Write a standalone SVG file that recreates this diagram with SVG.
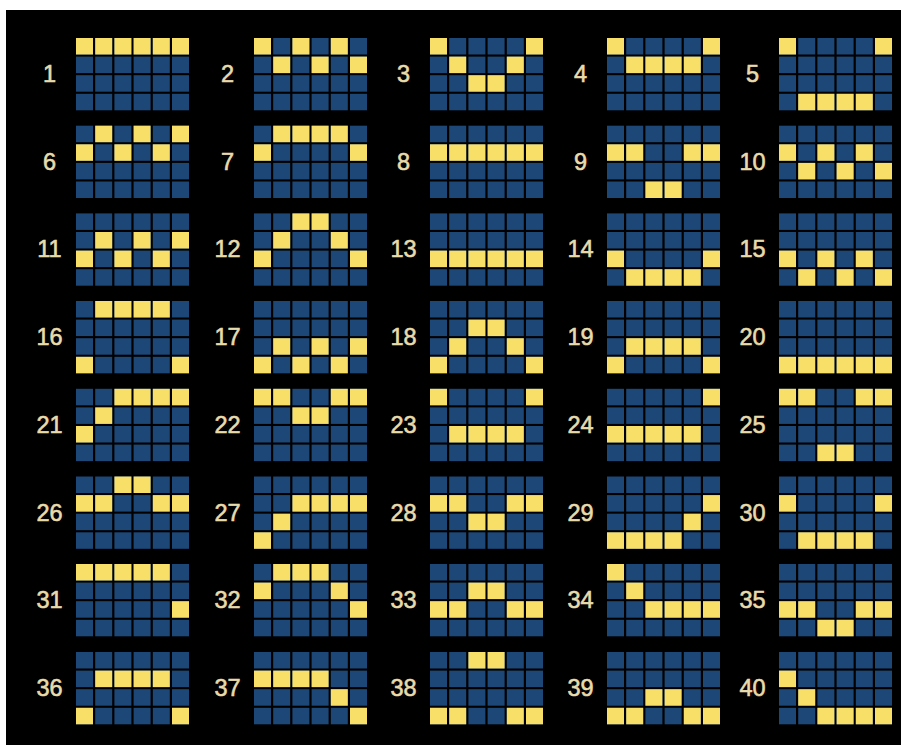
<svg xmlns="http://www.w3.org/2000/svg" xmlns:xlink="http://www.w3.org/1999/xlink" width="901" height="745" viewBox="0 0 901 745">
<style>
.bg{fill:#000}
.b{fill:#1d4777}
.yl{fill:#f8df68}
.lbl{font-family:"Liberation Sans",Arial,sans-serif;font-size:23.5px;fill:#e8dbab;stroke:#e8dbab;stroke-width:0.6;text-anchor:middle}
</style>
<defs>
<rect id="c" width="17" height="16.5" class="b"/>
<rect id="y" width="17" height="16.5" class="yl"/>
<g id="grid">
<use href="#c" x="0" y="0"/><use href="#c" x="19.2" y="0"/><use href="#c" x="38.4" y="0"/><use href="#c" x="57.6" y="0"/><use href="#c" x="76.8" y="0"/><use href="#c" x="96" y="0"/>
<use href="#c" x="0" y="18.6"/><use href="#c" x="19.2" y="18.6"/><use href="#c" x="38.4" y="18.6"/><use href="#c" x="57.6" y="18.6"/><use href="#c" x="76.8" y="18.6"/><use href="#c" x="96" y="18.6"/>
<use href="#c" x="0" y="37.2"/><use href="#c" x="19.2" y="37.2"/><use href="#c" x="38.4" y="37.2"/><use href="#c" x="57.6" y="37.2"/><use href="#c" x="76.8" y="37.2"/><use href="#c" x="96" y="37.2"/>
<use href="#c" x="0" y="55.8"/><use href="#c" x="19.2" y="55.8"/><use href="#c" x="38.4" y="55.8"/><use href="#c" x="57.6" y="55.8"/><use href="#c" x="76.8" y="55.8"/><use href="#c" x="96" y="55.8"/>
</g>
</defs>
<rect x="0" y="0" width="901" height="745" fill="#fff"/>
<rect x="6" y="10" width="895" height="735" class="bg"/>
<g id="connectors"></g>

<g id="line-1" transform="translate(76,38)"><use href="#grid"/><use href="#y" x="0" y="0"/><use href="#y" x="19.2" y="0"/><use href="#y" x="38.4" y="0"/><use href="#y" x="57.6" y="0"/><use href="#y" x="76.8" y="0"/><use href="#y" x="96" y="0"/><text class="lbl" x="-26.5" y="44">1</text></g>
<g id="line-2" transform="translate(254,38)"><use href="#grid"/><use href="#y" x="0" y="0"/><use href="#y" x="19.2" y="18.6"/><use href="#y" x="38.4" y="0"/><use href="#y" x="57.6" y="18.6"/><use href="#y" x="76.8" y="0"/><use href="#y" x="96" y="18.6"/><text class="lbl" x="-26.5" y="44">2</text></g>
<g id="line-3" transform="translate(430,38)"><use href="#grid"/><use href="#y" x="0" y="0"/><use href="#y" x="19.2" y="18.6"/><use href="#y" x="38.4" y="37.2"/><use href="#y" x="57.6" y="37.2"/><use href="#y" x="76.8" y="18.6"/><use href="#y" x="96" y="0"/><text class="lbl" x="-26.5" y="44">3</text></g>
<g id="line-4" transform="translate(607,38)"><use href="#grid"/><use href="#y" x="0" y="0"/><use href="#y" x="19.2" y="18.6"/><use href="#y" x="38.4" y="18.6"/><use href="#y" x="57.6" y="18.6"/><use href="#y" x="76.8" y="18.6"/><use href="#y" x="96" y="0"/><text class="lbl" x="-26.5" y="44">4</text></g>
<g id="line-5" transform="translate(779,38)"><use href="#grid"/><use href="#y" x="0" y="0"/><use href="#y" x="19.2" y="55.8"/><use href="#y" x="38.4" y="55.8"/><use href="#y" x="57.6" y="55.8"/><use href="#y" x="76.8" y="55.8"/><use href="#y" x="96" y="0"/><text class="lbl" x="-26.5" y="44">5</text></g>

<g id="line-6" transform="translate(76,125.7)"><use href="#grid"/><use href="#y" x="0" y="18.6"/><use href="#y" x="19.2" y="0"/><use href="#y" x="38.4" y="18.6"/><use href="#y" x="57.6" y="0"/><use href="#y" x="76.8" y="18.6"/><use href="#y" x="96" y="0"/><text class="lbl" x="-26.5" y="44">6</text></g>
<g id="line-7" transform="translate(254,125.7)"><use href="#grid"/><use href="#y" x="0" y="18.6"/><use href="#y" x="19.2" y="0"/><use href="#y" x="38.4" y="0"/><use href="#y" x="57.6" y="0"/><use href="#y" x="76.8" y="0"/><use href="#y" x="96" y="18.6"/><text class="lbl" x="-26.5" y="44">7</text></g>
<g id="line-8" transform="translate(430,125.7)"><use href="#grid"/><use href="#y" x="0" y="18.6"/><use href="#y" x="19.2" y="18.6"/><use href="#y" x="38.4" y="18.6"/><use href="#y" x="57.6" y="18.6"/><use href="#y" x="76.8" y="18.6"/><use href="#y" x="96" y="18.6"/><text class="lbl" x="-26.5" y="44">8</text></g>
<g id="line-9" transform="translate(607,125.7)"><use href="#grid"/><use href="#y" x="0" y="18.6"/><use href="#y" x="19.2" y="18.6"/><use href="#y" x="38.4" y="55.8"/><use href="#y" x="57.6" y="55.8"/><use href="#y" x="76.8" y="18.6"/><use href="#y" x="96" y="18.6"/><text class="lbl" x="-26.5" y="44">9</text></g>
<g id="line-10" transform="translate(779,125.7)"><use href="#grid"/><use href="#y" x="0" y="18.6"/><use href="#y" x="19.2" y="37.2"/><use href="#y" x="38.4" y="18.6"/><use href="#y" x="57.6" y="37.2"/><use href="#y" x="76.8" y="18.6"/><use href="#y" x="96" y="37.2"/><text class="lbl" x="-26.5" y="44">10</text></g>

<g id="line-11" transform="translate(76,213.4)"><use href="#grid"/><use href="#y" x="0" y="37.2"/><use href="#y" x="19.2" y="18.6"/><use href="#y" x="38.4" y="37.2"/><use href="#y" x="57.6" y="18.6"/><use href="#y" x="76.8" y="37.2"/><use href="#y" x="96" y="18.6"/><text class="lbl" x="-26.5" y="44">11</text></g>
<g id="line-12" transform="translate(254,213.4)"><use href="#grid"/><use href="#y" x="0" y="37.2"/><use href="#y" x="19.2" y="18.6"/><use href="#y" x="38.4" y="0"/><use href="#y" x="57.6" y="0"/><use href="#y" x="76.8" y="18.6"/><use href="#y" x="96" y="37.2"/><text class="lbl" x="-26.5" y="44">12</text></g>
<g id="line-13" transform="translate(430,213.4)"><use href="#grid"/><use href="#y" x="0" y="37.2"/><use href="#y" x="19.2" y="37.2"/><use href="#y" x="38.4" y="37.2"/><use href="#y" x="57.6" y="37.2"/><use href="#y" x="76.8" y="37.2"/><use href="#y" x="96" y="37.2"/><text class="lbl" x="-26.5" y="44">13</text></g>
<g id="line-14" transform="translate(607,213.4)"><use href="#grid"/><use href="#y" x="0" y="37.2"/><use href="#y" x="19.2" y="55.8"/><use href="#y" x="38.4" y="55.8"/><use href="#y" x="57.6" y="55.8"/><use href="#y" x="76.8" y="55.8"/><use href="#y" x="96" y="37.2"/><text class="lbl" x="-26.5" y="44">14</text></g>
<g id="line-15" transform="translate(779,213.4)"><use href="#grid"/><use href="#y" x="0" y="37.2"/><use href="#y" x="19.2" y="55.8"/><use href="#y" x="38.4" y="37.2"/><use href="#y" x="57.6" y="55.8"/><use href="#y" x="76.8" y="37.2"/><use href="#y" x="96" y="55.8"/><text class="lbl" x="-26.5" y="44">15</text></g>

<g id="line-16" transform="translate(76,301)"><use href="#grid"/><use href="#y" x="0" y="55.8"/><use href="#y" x="19.2" y="0"/><use href="#y" x="38.4" y="0"/><use href="#y" x="57.6" y="0"/><use href="#y" x="76.8" y="0"/><use href="#y" x="96" y="55.8"/><text class="lbl" x="-26.5" y="44">16</text></g>
<g id="line-17" transform="translate(254,301)"><use href="#grid"/><use href="#y" x="0" y="55.8"/><use href="#y" x="19.2" y="37.2"/><use href="#y" x="38.4" y="55.8"/><use href="#y" x="57.6" y="37.2"/><use href="#y" x="76.8" y="55.8"/><use href="#y" x="96" y="37.2"/><text class="lbl" x="-26.5" y="44">17</text></g>
<g id="line-18" transform="translate(430,301)"><use href="#grid"/><use href="#y" x="0" y="55.8"/><use href="#y" x="19.2" y="37.2"/><use href="#y" x="38.4" y="18.6"/><use href="#y" x="57.6" y="18.6"/><use href="#y" x="76.8" y="37.2"/><use href="#y" x="96" y="55.8"/><text class="lbl" x="-26.5" y="44">18</text></g>
<g id="line-19" transform="translate(607,301)"><use href="#grid"/><use href="#y" x="0" y="55.8"/><use href="#y" x="19.2" y="37.2"/><use href="#y" x="38.4" y="37.2"/><use href="#y" x="57.6" y="37.2"/><use href="#y" x="76.8" y="37.2"/><use href="#y" x="96" y="55.8"/><text class="lbl" x="-26.5" y="44">19</text></g>
<g id="line-20" transform="translate(779,301)"><use href="#grid"/><use href="#y" x="0" y="55.8"/><use href="#y" x="19.2" y="55.8"/><use href="#y" x="38.4" y="55.8"/><use href="#y" x="57.6" y="55.8"/><use href="#y" x="76.8" y="55.8"/><use href="#y" x="96" y="55.8"/><text class="lbl" x="-26.5" y="44">20</text></g>

<g id="line-21" transform="translate(76,388.8)"><use href="#grid"/><use href="#y" x="0" y="37.2"/><use href="#y" x="19.2" y="18.6"/><use href="#y" x="38.4" y="0"/><use href="#y" x="57.6" y="0"/><use href="#y" x="76.8" y="0"/><use href="#y" x="96" y="0"/><text class="lbl" x="-26.5" y="44">21</text></g>
<g id="line-22" transform="translate(254,388.8)"><use href="#grid"/><use href="#y" x="0" y="0"/><use href="#y" x="19.2" y="0"/><use href="#y" x="38.4" y="18.6"/><use href="#y" x="57.6" y="18.6"/><use href="#y" x="76.8" y="0"/><use href="#y" x="96" y="0"/><text class="lbl" x="-26.5" y="44">22</text></g>
<g id="line-23" transform="translate(430,388.8)"><use href="#grid"/><use href="#y" x="0" y="0"/><use href="#y" x="19.2" y="37.2"/><use href="#y" x="38.4" y="37.2"/><use href="#y" x="57.6" y="37.2"/><use href="#y" x="76.8" y="37.2"/><use href="#y" x="96" y="0"/><text class="lbl" x="-26.5" y="44">23</text></g>
<g id="line-24" transform="translate(607,388.8)"><use href="#grid"/><use href="#y" x="0" y="37.2"/><use href="#y" x="19.2" y="37.2"/><use href="#y" x="38.4" y="37.2"/><use href="#y" x="57.6" y="37.2"/><use href="#y" x="76.8" y="37.2"/><use href="#y" x="96" y="0"/><text class="lbl" x="-26.5" y="44">24</text></g>
<g id="line-25" transform="translate(779,388.8)"><use href="#grid"/><use href="#y" x="0" y="0"/><use href="#y" x="19.2" y="0"/><use href="#y" x="38.4" y="55.8"/><use href="#y" x="57.6" y="55.8"/><use href="#y" x="76.8" y="0"/><use href="#y" x="96" y="0"/><text class="lbl" x="-26.5" y="44">25</text></g>

<g id="line-26" transform="translate(76,476.5)"><use href="#grid"/><use href="#y" x="0" y="18.6"/><use href="#y" x="19.2" y="18.6"/><use href="#y" x="38.4" y="0"/><use href="#y" x="57.6" y="0"/><use href="#y" x="76.8" y="18.6"/><use href="#y" x="96" y="18.6"/><text class="lbl" x="-26.5" y="44">26</text></g>
<g id="line-27" transform="translate(254,476.5)"><use href="#grid"/><use href="#y" x="0" y="55.8"/><use href="#y" x="19.2" y="37.2"/><use href="#y" x="38.4" y="18.6"/><use href="#y" x="57.6" y="18.6"/><use href="#y" x="76.8" y="18.6"/><use href="#y" x="96" y="18.6"/><text class="lbl" x="-26.5" y="44">27</text></g>
<g id="line-28" transform="translate(430,476.5)"><use href="#grid"/><use href="#y" x="0" y="18.6"/><use href="#y" x="19.2" y="18.6"/><use href="#y" x="38.4" y="37.2"/><use href="#y" x="57.6" y="37.2"/><use href="#y" x="76.8" y="18.6"/><use href="#y" x="96" y="18.6"/><text class="lbl" x="-26.5" y="44">28</text></g>
<g id="line-29" transform="translate(607,476.5)"><use href="#grid"/><use href="#y" x="0" y="55.8"/><use href="#y" x="19.2" y="55.8"/><use href="#y" x="38.4" y="55.8"/><use href="#y" x="57.6" y="55.8"/><use href="#y" x="76.8" y="37.2"/><use href="#y" x="96" y="18.6"/><text class="lbl" x="-26.5" y="44">29</text></g>
<g id="line-30" transform="translate(779,476.5)"><use href="#grid"/><use href="#y" x="0" y="18.6"/><use href="#y" x="19.2" y="55.8"/><use href="#y" x="38.4" y="55.8"/><use href="#y" x="57.6" y="55.8"/><use href="#y" x="76.8" y="55.8"/><use href="#y" x="96" y="18.6"/><text class="lbl" x="-26.5" y="44">30</text></g>

<g id="line-31" transform="translate(76,564)"><use href="#grid"/><use href="#y" x="0" y="0"/><use href="#y" x="19.2" y="0"/><use href="#y" x="38.4" y="0"/><use href="#y" x="57.6" y="0"/><use href="#y" x="76.8" y="0"/><use href="#y" x="96" y="37.2"/><text class="lbl" x="-26.5" y="44">31</text></g>
<g id="line-32" transform="translate(254,564)"><use href="#grid"/><use href="#y" x="0" y="18.6"/><use href="#y" x="19.2" y="0"/><use href="#y" x="38.4" y="0"/><use href="#y" x="57.6" y="0"/><use href="#y" x="76.8" y="18.6"/><use href="#y" x="96" y="37.2"/><text class="lbl" x="-26.5" y="44">32</text></g>
<g id="line-33" transform="translate(430,564)"><use href="#grid"/><use href="#y" x="0" y="37.2"/><use href="#y" x="19.2" y="37.2"/><use href="#y" x="38.4" y="18.6"/><use href="#y" x="57.6" y="18.6"/><use href="#y" x="76.8" y="37.2"/><use href="#y" x="96" y="37.2"/><text class="lbl" x="-26.5" y="44">33</text></g>
<g id="line-34" transform="translate(607,564)"><use href="#grid"/><use href="#y" x="0" y="0"/><use href="#y" x="19.2" y="18.6"/><use href="#y" x="38.4" y="37.2"/><use href="#y" x="57.6" y="37.2"/><use href="#y" x="76.8" y="37.2"/><use href="#y" x="96" y="37.2"/><text class="lbl" x="-26.5" y="44">34</text></g>
<g id="line-35" transform="translate(779,564)"><use href="#grid"/><use href="#y" x="0" y="37.2"/><use href="#y" x="19.2" y="37.2"/><use href="#y" x="38.4" y="55.8"/><use href="#y" x="57.6" y="55.8"/><use href="#y" x="76.8" y="37.2"/><use href="#y" x="96" y="37.2"/><text class="lbl" x="-26.5" y="44">35</text></g>

<g id="line-36" transform="translate(76,652)"><use href="#grid"/><use href="#y" x="0" y="55.8"/><use href="#y" x="19.2" y="18.6"/><use href="#y" x="38.4" y="18.6"/><use href="#y" x="57.6" y="18.6"/><use href="#y" x="76.8" y="18.6"/><use href="#y" x="96" y="55.8"/><text class="lbl" x="-26.5" y="44">36</text></g>
<g id="line-37" transform="translate(254,652)"><use href="#grid"/><use href="#y" x="0" y="18.6"/><use href="#y" x="19.2" y="18.6"/><use href="#y" x="38.4" y="18.6"/><use href="#y" x="57.6" y="18.6"/><use href="#y" x="76.8" y="37.2"/><use href="#y" x="96" y="55.8"/><text class="lbl" x="-26.5" y="44">37</text></g>
<g id="line-38" transform="translate(430,652)"><use href="#grid"/><use href="#y" x="0" y="55.8"/><use href="#y" x="19.2" y="55.8"/><use href="#y" x="38.4" y="0"/><use href="#y" x="57.6" y="0"/><use href="#y" x="76.8" y="55.8"/><use href="#y" x="96" y="55.8"/><text class="lbl" x="-26.5" y="44">38</text></g>
<g id="line-39" transform="translate(607,652)"><use href="#grid"/><use href="#y" x="0" y="55.8"/><use href="#y" x="19.2" y="55.8"/><use href="#y" x="38.4" y="37.2"/><use href="#y" x="57.6" y="37.2"/><use href="#y" x="76.8" y="55.8"/><use href="#y" x="96" y="55.8"/><text class="lbl" x="-26.5" y="44">39</text></g>
<g id="line-40" transform="translate(779,652)"><use href="#grid"/><use href="#y" x="0" y="18.6"/><use href="#y" x="19.2" y="37.2"/><use href="#y" x="38.4" y="55.8"/><use href="#y" x="57.6" y="55.8"/><use href="#y" x="76.8" y="55.8"/><use href="#y" x="96" y="55.8"/><text class="lbl" x="-26.5" y="44">40</text></g>
</svg>
